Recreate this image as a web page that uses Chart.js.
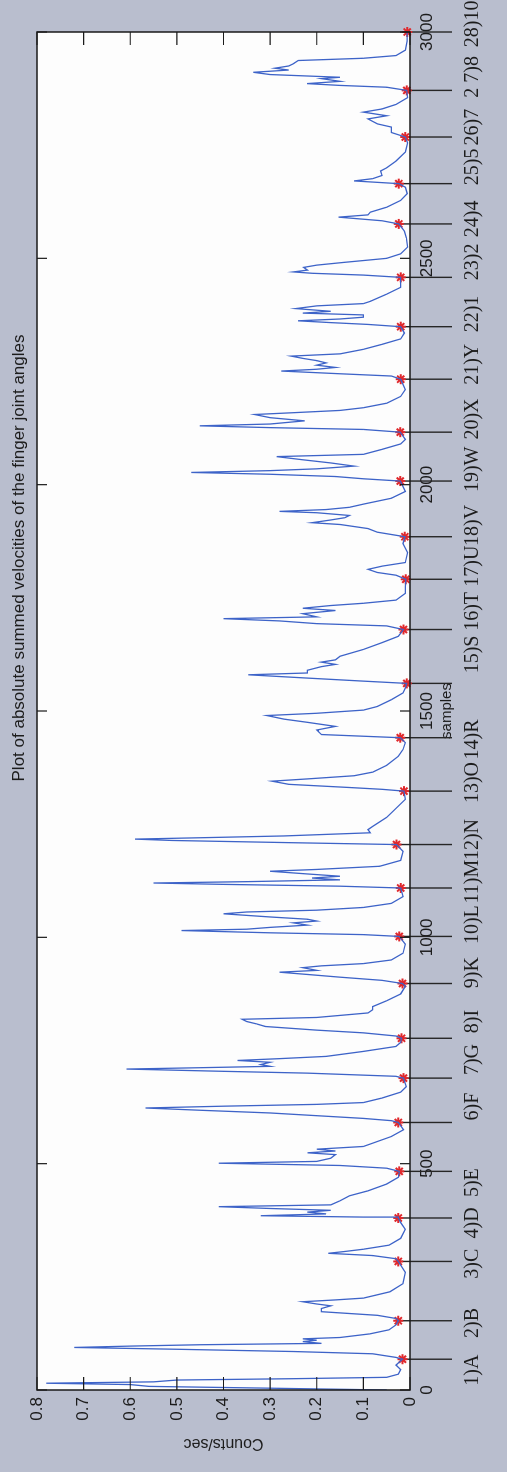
<!DOCTYPE html>
<html>
<head>
<meta charset="utf-8">
<title>Summed finger joint velocities</title>
<script src="https://cdn.jsdelivr.net/npm/chart.js@4.4.1/dist/chart.umd.min.js"></script>
<style>
  html, body { margin: 0; padding: 0; }
  body { width: 507px; height: 1472px; overflow: hidden; background: #b9bece; }
  /* the printed figure is turned a quarter turn counter-clockwise */
  #frame {
    position: absolute; left: 0; top: 0;
    width: 1472px; height: 507px;
    transform-origin: 0 0;
    transform: translate(0, 1472px) rotate(-90deg);
  }
</style>
</head>
<body>
<div id="frame"><canvas id="chart" width="1472" height="507"></canvas></div>
<script>
// [sample, counts/sec], vertex by vertex
const velocityTrace = [
  [0,0.05],[4,0.3],[8,0.56],[12,0.6],[15,0.78],[18,0.55],[22,0.5],[25,0.25],[28,0.05],[35,0.025],[45,0.02],[55,0.03],[68,0.016],
  [72,0.03],[80,0.08],[85,0.25],[90,0.5],[94,0.72],[97,0.6],[100,0.45],[103,0.19],[107,0.23],[110,0.2],[113,0.23],[116,0.15],[124,0.086],[133,0.045],[144,0.03],[153,0.025],
  [158,0.03],[165,0.07],[173,0.19],[180,0.19],[186,0.17],[190,0.2],[195,0.23],[199,0.16],[203,0.1],[217,0.043],[235,0.015],[260,0.01],[284,0.025],
  [290,0.03],[297,0.08],[302,0.175],[306,0.14],[311,0.1],[320,0.045],[335,0.02],[355,0.01],[370,0.02],[380,0.025],
  [382,0.1],[385,0.32],[389,0.18],[393,0.22],[397,0.17],[401,0.3],[405,0.41],[409,0.17],[418,0.15],[429,0.13],[440,0.09],[455,0.05],[470,0.025],[483,0.023],
  [490,0.05],[496,0.15],[501,0.41],[505,0.2],[512,0.17],[520,0.16],[524,0.22],[528,0.16],[532,0.2],[538,0.1],[549,0.07],[560,0.04],[575,0.014],[591,0.025],
  [595,0.04],[600,0.1],[606,0.2],[612,0.3],[618,0.45],[623,0.567],[627,0.4],[631,0.2],[635,0.1],[645,0.06],[658,0.02],[670,0.008],[689,0.014],
  [693,0.03],[700,0.22],[704,0.4],[709,0.608],[712,0.45],[715,0.3],[719,0.32],[724,0.3],[728,0.37],[732,0.28],[737,0.18],[748,0.1],[759,0.03],[768,0.02],[777,0.018],
  [782,0.03],[789,0.1],[795,0.2],[803,0.31],[809,0.33],[814,0.35],[819,0.36],[823,0.2],[833,0.09],[840,0.08],[847,0.08],[860,0.05],[875,0.02],[892,0.01],[898,0.016],
  [905,0.06],[912,0.15],[918,0.22],[923,0.28],[927,0.2],[933,0.23],[937,0.19],[942,0.1],[950,0.04],[965,0.015],[985,0.01],[1002,0.023],
  [1006,0.1],[1010,0.3],[1015,0.49],[1018,0.35],[1022,0.3],[1027,0.22],[1032,0.25],[1036,0.2],[1040,0.22],[1045,0.3],[1052,0.4],[1056,0.35],[1060,0.2],[1066,0.1],[1075,0.04],[1090,0.015],[1109,0.02],
  [1113,0.15],[1117,0.4],[1120,0.55],[1123,0.35],[1127,0.15],[1131,0.21],[1135,0.15],[1140,0.22],[1146,0.3],[1150,0.2],[1157,0.065],[1170,0.02],[1190,0.015],[1205,0.029],
  [1209,0.25],[1214,0.51],[1217,0.59],[1220,0.45],[1224,0.27],[1231,0.085],[1238,0.09],[1245,0.08],[1255,0.065],[1265,0.05],[1275,0.04],[1290,0.025],[1305,0.01],[1323,0.013],
  [1327,0.06],[1331,0.13],[1338,0.26],[1345,0.296],[1350,0.22],[1357,0.12],[1365,0.08],[1380,0.05],[1400,0.025],[1415,0.015],[1430,0.01],[1441,0.021],
  [1448,0.19],[1458,0.2],[1466,0.16],[1475,0.22],[1482,0.27],[1490,0.307],[1495,0.2],[1502,0.1],[1510,0.07],[1525,0.04],[1540,0.015],[1551,0.01],[1561,0.007],
  [1566,0.1],[1573,0.225],[1580,0.347],[1584,0.22],[1590,0.22],[1598,0.19],[1603,0.16],[1608,0.19],[1613,0.16],[1621,0.15],[1636,0.1],[1651,0.06],[1665,0.025],[1680,0.014],
  [1688,0.05],[1693,0.2],[1699,0.28],[1704,0.4],[1708,0.2],[1715,0.23],[1722,0.16],[1727,0.23],[1733,0.17],[1738,0.1],[1745,0.03],[1760,0.01],[1775,0.01],[1791,0.009],
  [1800,0.03],[1806,0.07],[1813,0.09],[1820,0.06],[1828,0.01],[1850,0.005],[1870,0.015],[1885,0.011],
  [1895,0.07],[1903,0.09],[1912,0.15],[1916,0.21],[1922,0.17],[1927,0.14],[1932,0.13],[1938,0.2],[1941,0.28],[1945,0.18],[1950,0.13],[1957,0.1],[1970,0.04],[1985,0.01],[2008,0.021],
  [2013,0.1],[2018,0.16],[2023,0.3],[2027,0.469],[2031,0.3],[2035,0.2],[2041,0.12],[2048,0.17],[2055,0.23],[2062,0.286],[2067,0.1],[2078,0.06],[2090,0.02],[2100,0.01],[2116,0.021],
  [2122,0.1],[2126,0.3],[2130,0.451],[2134,0.3],[2141,0.226],[2148,0.3],[2155,0.333],[2159,0.25],[2164,0.15],[2170,0.1],[2180,0.05],[2195,0.02],[2210,0.01],[2233,0.02],
  [2240,0.04],[2245,0.15],[2251,0.276],[2255,0.2],[2259,0.16],[2264,0.2],[2269,0.18],[2274,0.2],[2279,0.23],[2284,0.255],[2289,0.15],[2299,0.1],[2310,0.06],[2322,0.02],[2335,0.012],[2349,0.02],
  [2354,0.09],[2358,0.17],[2362,0.24],[2366,0.15],[2370,0.1],[2375,0.1],[2379,0.23],[2383,0.17],[2389,0.245],[2395,0.2],[2400,0.1],[2405,0.085],[2421,0.05],[2436,0.02],[2458,0.02],
  [2463,0.1],[2467,0.21],[2470,0.25],[2474,0.22],[2480,0.228],[2485,0.2],[2491,0.142],[2500,0.05],[2510,0.02],[2525,0.005],[2545,0.008],[2560,0.012],[2576,0.024],
  [2583,0.06],[2591,0.153],[2596,0.09],[2602,0.085],[2613,0.05],[2628,0.02],[2643,0.006],[2657,0.01],[2665,0.024],
  [2671,0.12],[2676,0.08],[2683,0.06],[2693,0.063],[2700,0.05],[2715,0.03],[2735,0.01],[2755,0.005],[2768,0.01],
  [2778,0.04],[2790,0.04],[2797,0.07],[2808,0.09],[2815,0.05],[2823,0.1],[2830,0.06],[2840,0.03],[2855,0.005],[2871,0.007],
  [2878,0.05],[2882,0.15],[2886,0.221],[2891,0.15],[2897,0.19],[2900,0.15],[2906,0.3],[2911,0.336],[2916,0.26],[2920,0.29],[2925,0.26],[2930,0.25],[2937,0.24],[2942,0.1],[2948,0.03],[2960,0.01],[2980,0.006],[3000,0.006]
];

// gesture boundaries (red stars) and their hand-typed names
const markerSamples = [68,153,284,380,483,591,689,777,898,1002,1109,1205,1323,1441,1561,1680,1791,1885,2008,2116,2233,2349,2458,2576,2665,2768,2871,3000];
const markerValues = [0.016,0.025,0.025,0.025,0.023,0.025,0.014,0.018,0.016,0.023,0.02,0.029,0.013,0.021,0.007,0.014,0.009,0.011,0.021,0.021,0.02,0.02,0.02,0.024,0.024,0.01,0.007,0.006];
const markerLabels = ['1)A','2)B','3)C','4)D','5)E','6)F','7)G','8)I','9)K','10)L','11)M','12)N','13)O','14)R','15)S','16)T','17)U','18)V','19)W','20)X','21)Y','22)1','23)2','24)4','25)5','26)7','2 7)8','28)10'];
const labelAt = [44,148,279,369,458,626,730,814,922,1028,1123,1216,1342,1437,1625,1720,1820,1910,2034,2145,2266,2377,2492,2587,2702,2790,2901,3018];

const xTicks = [0,500,1000,1500,2000,2500,3000];
const xTickLabels = ['0','500','1000','1500','2000','2500','3000'];
const yTicks = [0,0.1,0.2,0.3,0.4,0.5,0.6,0.7,0.8];
const yTickLabels = ['0','0.1','0.2','0.3','0.4','0.5','0.6','0.7','0.8'];

const chartTitle = 'Plot of absolute summed velocities of the finger joint angles';

Chart.defaults.font.family = '"Liberation Sans", Arial, sans-serif';
Chart.defaults.color = '#1c1c1c';

// MATLAB style frame: white axes box, ticks pointing inwards on all four sides
const matlabLook = {
  id: 'matlabLook',
  beforeDraw(chart) {
    const {ctx, chartArea: a} = chart;
    ctx.save();
    ctx.fillStyle = '#fdfdfd';
    ctx.fillRect(a.left, a.top, a.right - a.left, a.bottom - a.top);
    ctx.restore();
  },
  beforeDatasetsDraw(chart) {
    // lead lines from each star out past the axis
    const {ctx, scales: {x, y}} = chart;
    ctx.save();
    ctx.strokeStyle = '#262626';
    ctx.lineWidth = 1.4;
    markerSamples.forEach((s, i) => {
      const px = x.getPixelForValue(s);
      ctx.beginPath();
      ctx.moveTo(px, y.getPixelForValue(markerValues[i]));
      ctx.lineTo(px, 452);
      ctx.stroke();
    });
    ctx.restore();
  },
  afterDatasetsDraw(chart) {
    const {ctx, chartArea: a, scales: {x, y}} = chart;
    ctx.save();
    ctx.strokeStyle = '#1a1a1a';
    ctx.lineWidth = 1.5;
    ctx.strokeRect(a.left, a.top, a.right - a.left, a.bottom - a.top);
    ctx.lineWidth = 1.2;
    ctx.beginPath();
    x.ticks.forEach(t => {
      const px = x.getPixelForValue(t.value);
      ctx.moveTo(px, a.bottom); ctx.lineTo(px, a.bottom - 10);
      ctx.moveTo(px, a.top); ctx.lineTo(px, a.top + 10);
    });
    y.ticks.forEach(t => {
      const py = y.getPixelForValue(t.value);
      ctx.moveTo(a.left, py); ctx.lineTo(a.left + 13, py);
      ctx.moveTo(a.right, py); ctx.lineTo(a.right - 13, py);
    });
    ctx.stroke();
    ctx.restore();
  },
  afterDraw(chart) {
    const {ctx, scales: {x}} = chart;
    ctx.save();
    ctx.fillStyle = '#1c1c1c';
    ctx.textAlign = 'center';
    ctx.textBaseline = 'middle';
    ctx.font = '20px "Liberation Serif", serif';
    markerLabels.forEach((txt, i) => {
      ctx.fillText(txt, x.getPixelForValue(labelAt[i]), 473);
    });
    ctx.font = '17px "Liberation Sans", Arial, sans-serif';
    ctx.fillText(chartTitle, 914, 19);
    ctx.restore();
  }
};

new Chart(document.getElementById('chart'), {
  type: 'line',
  data: {
    datasets: [
      {
        data: velocityTrace.map(([s, v]) => ({x: s, y: v})),
        borderColor: '#3d63c8',
        borderWidth: 1.3,
        pointRadius: 0,
        tension: 0,
        fill: false
      },
      {
        type: 'scatter',
        data: markerSamples.map((s, i) => ({x: s, y: markerValues[i]})),
        pointStyle: 'star',
        pointRadius: 5,
        borderWidth: 2,
        borderColor: '#e0282c',
        backgroundColor: '#e0282c',
        showLine: false,
        clip: false
      }
    ]
  },
  options: {
    responsive: false,
    animation: false,
    events: [],
    layout: { padding: { left: 0, right: 32, top: 37, bottom: 47 } },
    plugins: {
      legend: { display: false },
      tooltip: { enabled: false },
      title: { display: false }
    },
    scales: {
      x: {
        type: 'linear',
        min: 0,
        max: 3000,
        afterFit: s => { s.height = 50; },
        afterBuildTicks: s => { s.ticks = xTicks.map(v => ({value: v})); },
        grid: { display: false, drawTicks: false },
        border: { display: false },
        ticks: {
          padding: 7,
          autoSkip: false,
          maxRotation: 0,
          font: { size: 17 },
          callback: (v, i) => xTickLabels[i]
        },
        title: {
          display: true,
          text: 'samples',
          font: { size: 15 },
          padding: { top: 0, bottom: 4 }
        }
      },
      y: {
        min: 0,
        max: 0.8,
        afterFit: s => { s.width = 82; },
        afterBuildTicks: s => { s.ticks = yTicks.map(v => ({value: v})); },
        grid: { display: false, drawTicks: false },
        border: { display: false },
        ticks: {
          padding: 7,
          autoSkip: false,
          font: { size: 17 },
          callback: (v, i) => yTickLabels[i]
        },
        title: {
          display: true,
          text: 'Counts/sec',
          font: { size: 16 },
          padding: { top: 19, bottom: 0 }
        }
      }
    }
  },
  plugins: [matlabLook]
});
</script>
</body>
</html>
